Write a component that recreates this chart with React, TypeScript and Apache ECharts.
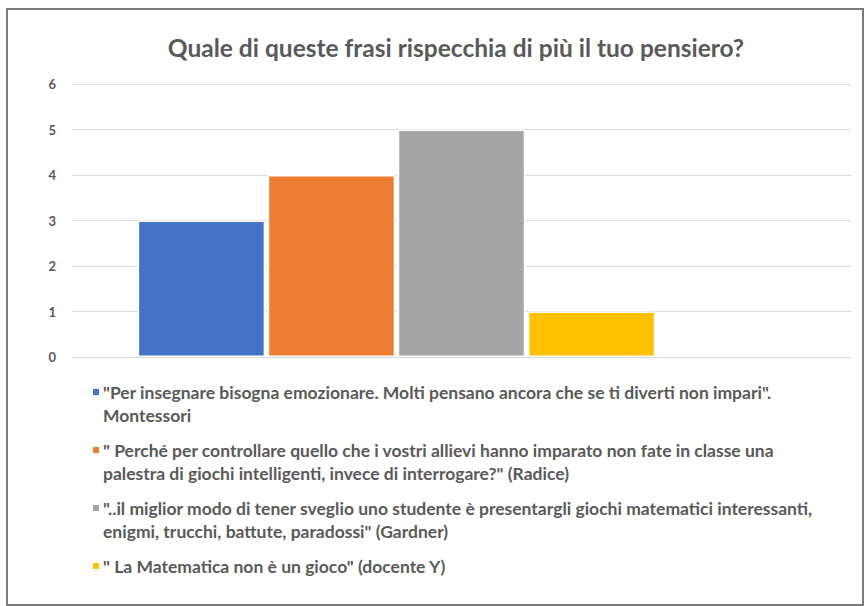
import React, { useEffect, useRef } from "react";
import * as echarts from "echarts";

const titleText = "Quale di queste frasi rispecchia di più il tuo pensiero?";
const categories = [""];
const seriesNames = [
  "\"Per insegnare bisogna emozionare. Molti pensano ancora che se ti diverti non impari\".\nMontessori",
  "\" Perché per controllare quello che i vostri allievi hanno imparato non fate in classe una\npalestra di giochi intelligenti, invece di interrogare?\" (Radice)",
  "\"..il miglior modo di tener sveglio uno studente è presentargli giochi matematici interessanti,\nenigmi, trucchi, battute, paradossi\" (Gardner)",
  "\" La Matematica non è un gioco\" (docente Y)",
];
const seriesValues = [3, 4, 5, 1];
const seriesColors = ["#4472C4", "#ED7D31", "#A5A5A5", "#FFC000"];
const yMin = 0;
const yMax = 6;
const yInterval = 1;

const FONT = "Lato, 'Liberation Sans', sans-serif";
const TEXT_COLOR = "#595959";

export default function App() {
  const ref = useRef<HTMLDivElement>(null);

  useEffect(() => {
    if (!ref.current) return;
    const chart = echarts.init(ref.current, undefined, { renderer: "svg" });

    const legendTop = 392;
    const lineH = 23;
    const entryGap = 12;
    const legendGraphics: any[] = [];
    let y = legendTop;
    seriesNames.forEach((name, i) => {
      const lines = name.split("\n");
      legendGraphics.push({
        type: "rect",
        shape: { x: 93, y: y - 3, width: 6, height: 6 },
        style: { fill: seriesColors[i] },
        silent: true,
      });
      lines.forEach((ln, j) => {
        legendGraphics.push({
          type: "text",
          x: 103,
          y: y + j * lineH,
          style: {
            text: ln,
            fill: TEXT_COLOR,
            font: `bold 17.5px ${FONT}`,
            textAlign: "left",
            textVerticalAlign: "middle",
          },
          silent: true,
        });
      });
      y += lines.length * lineH + entryGap;
    });

    const series: any[] = seriesNames.map((name, i) => ({
      type: "bar",
      name,
      data: [seriesValues[i]],
      barWidth: 127.5,
      barGap: "2%",
      itemStyle: { color: seriesColors[i], borderColor: "#ffffff", borderWidth: 1.5 },
      silent: true,
    }));
    // empty fifth slot, as in the original chart
    series.push({
      type: "bar",
      name: "",
      data: [null],
      barWidth: 127.5,
      barGap: "2%",
      silent: true,
    });

    chart.setOption({
      animation: false,
      backgroundColor: "#ffffff",
      title: {
        text: titleText,
        left: 451,
        top: 30,
        textAlign: "center",
        textStyle: {
          fontFamily: FONT,
          fontSize: 24.5,
          fontWeight: "bold",
          color: TEXT_COLOR,
        },
      },
      grid: { left: 72, right: 13, top: 84, bottom: 249, containLabel: false },
      xAxis: {
        type: "category",
        data: categories,
        axisLine: { show: false },
        axisTick: { show: false },
        axisLabel: { show: false },
      },
      yAxis: {
        type: "value",
        min: yMin,
        max: yMax,
        interval: yInterval,
        axisLine: { show: false },
        axisTick: { show: false },
        axisLabel: {
          margin: 16,
          color: TEXT_COLOR,
          fontFamily: FONT,
          fontSize: 13,
          fontWeight: "bold",
        },
        splitLine: { lineStyle: { color: "#d9d9d9", width: 1 } },
      },
      series,
      graphic: [
        {
          type: "rect",
          shape: { x: 7, y: 9, width: 856, height: 596 },
          style: { fill: "none", stroke: "#7a7a7a", lineWidth: 2 },
          silent: true,
          z: 100,
        },
        ...legendGraphics,
      ],
    });

    return () => chart.dispose();
  }, []);

  return (
    <div
      ref={ref}
      style={{ position: "absolute", left: 0, top: 0, width: 864, height: 606 }}
    />
  );
}
